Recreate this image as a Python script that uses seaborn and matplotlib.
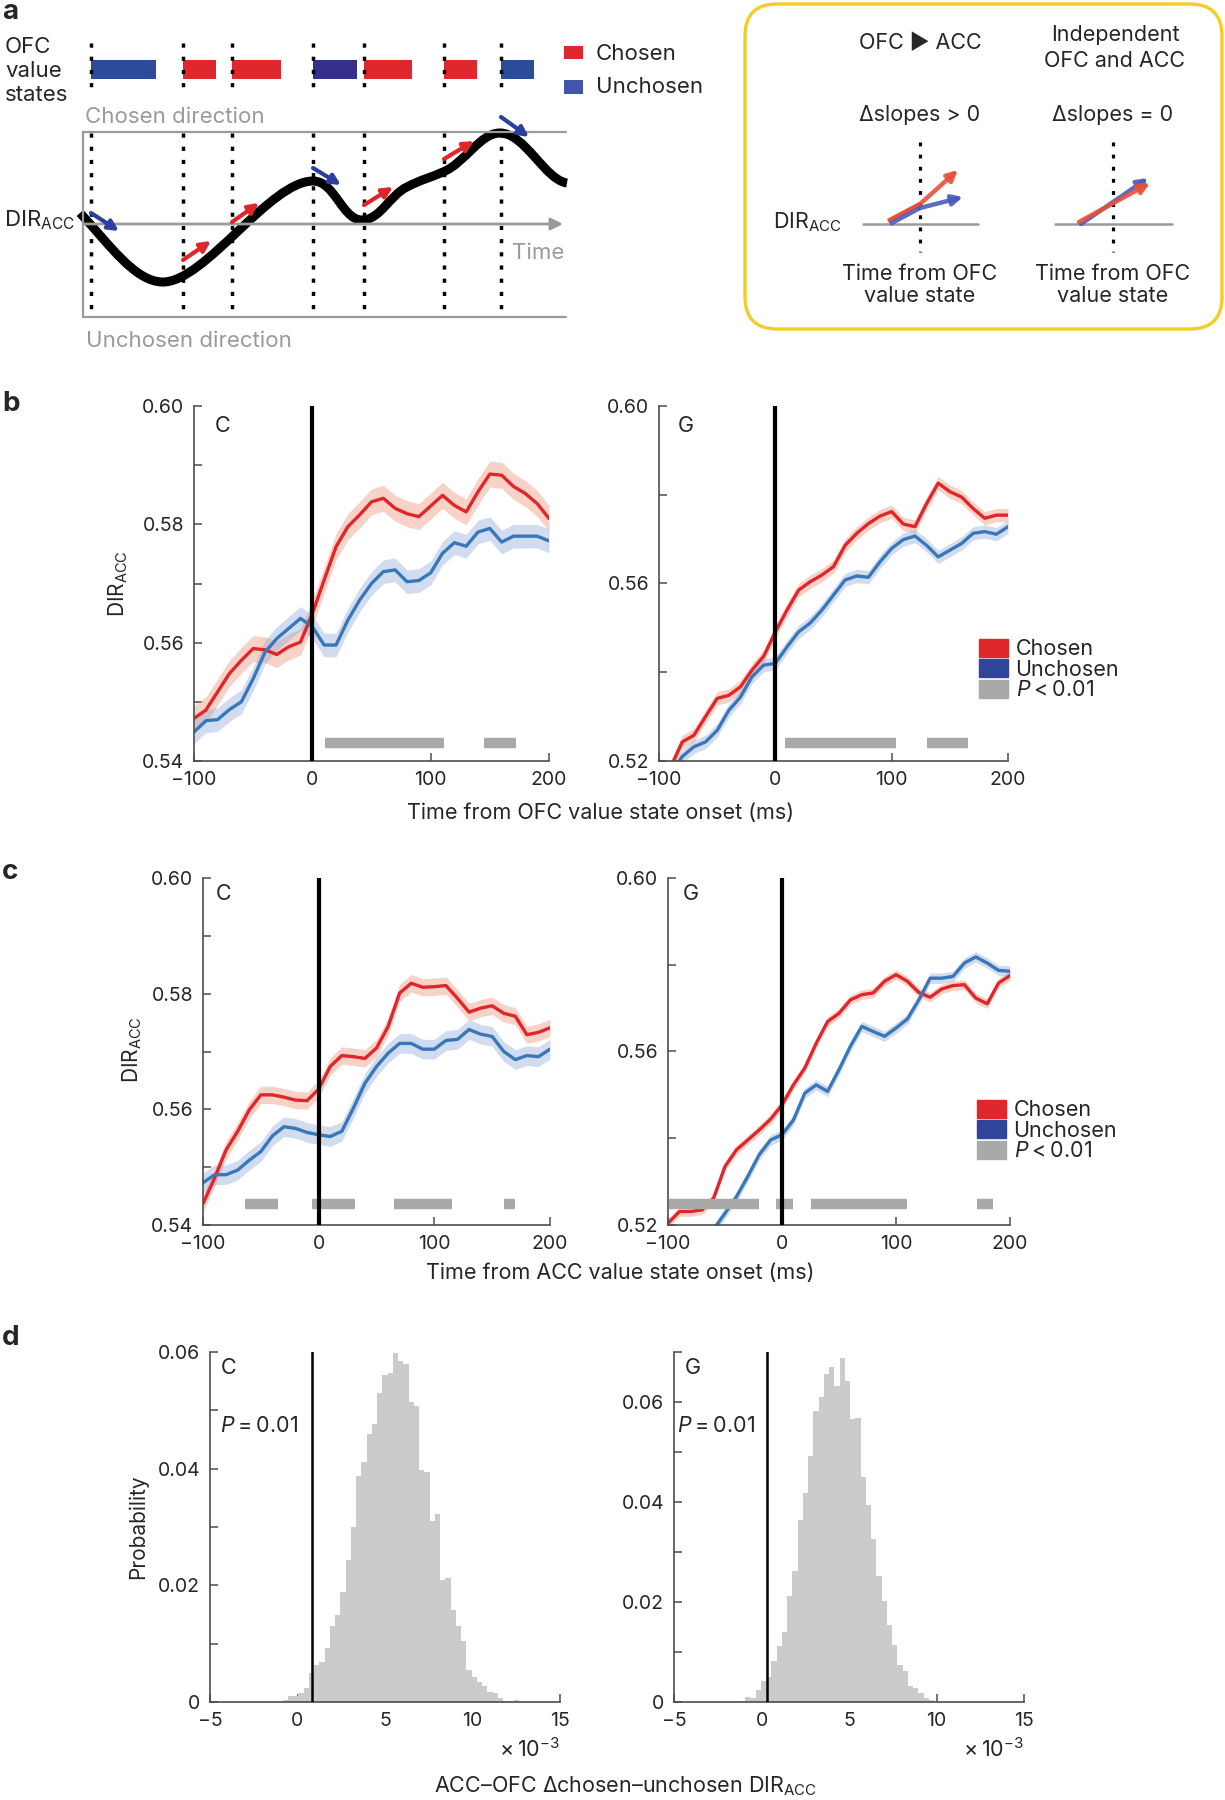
import numpy as np
import pandas as pd
import matplotlib
matplotlib.use("Agg")
import matplotlib.pyplot as plt
import seaborn as sns
from matplotlib.patches import FancyBboxPatch, Patch, PathPatch, Rectangle
from matplotlib.path import Path

# ---------------- data ----------------
time_ms = list(range(-100, 201, 10))

# b: aligned to OFC value state onset
ofc_c_chosen = [0.5472, 0.5486, 0.5517, 0.5548, 0.5570, 0.5590, 0.5588, 0.5580, 0.5593, 0.5601,
                0.5649, 0.5706, 0.5762, 0.5796, 0.5816, 0.5838, 0.5844, 0.5827, 0.5818, 0.5813,
                0.5831, 0.5849, 0.5832, 0.5821, 0.5855, 0.5885, 0.5883, 0.5864, 0.5852, 0.5835, 0.5810]
ofc_c_unchosen = [0.5449, 0.5468, 0.5470, 0.5487, 0.5500, 0.5539, 0.5584, 0.5607, 0.5624, 0.5641,
                  0.5627, 0.5596, 0.5596, 0.5638, 0.5672, 0.5700, 0.5720, 0.5723, 0.5703, 0.5705,
                  0.5718, 0.5751, 0.5769, 0.5763, 0.5787, 0.5793, 0.5770, 0.5780, 0.5780, 0.5780, 0.5772]
ofc_g_chosen = [0.5165, 0.5186, 0.5243, 0.5258, 0.5300, 0.5341, 0.5348, 0.5367, 0.5405, 0.5436,
                0.5491, 0.5540, 0.5585, 0.5604, 0.5619, 0.5638, 0.5686, 0.5713, 0.5735, 0.5752,
                0.5762, 0.5734, 0.5728, 0.5780, 0.5826, 0.5807, 0.5795, 0.5769, 0.5747, 0.5754, 0.5754]
ofc_g_unchosen = [0.5140, 0.5170, 0.5210, 0.5232, 0.5243, 0.5269, 0.5314, 0.5344, 0.5390, 0.5416,
                  0.5420, 0.5457, 0.5491, 0.5511, 0.5540, 0.5574, 0.5608, 0.5617, 0.5614, 0.5649,
                  0.5679, 0.5699, 0.5707, 0.5686, 0.5660, 0.5675, 0.5690, 0.5713, 0.5717, 0.5711, 0.5728]

# c: aligned to ACC value state onset
acc_c_chosen = [0.5437, 0.5481, 0.5530, 0.5562, 0.5599, 0.5625, 0.5625, 0.5621, 0.5616, 0.5615,
                0.5635, 0.5674, 0.5693, 0.5691, 0.5688, 0.5706, 0.5743, 0.5801, 0.5818, 0.5811,
                0.5812, 0.5814, 0.5792, 0.5768, 0.5775, 0.5779, 0.5766, 0.5761, 0.5729, 0.5733, 0.5741]
acc_c_unchosen = [0.5473, 0.5487, 0.5487, 0.5495, 0.5512, 0.5527, 0.5554, 0.5570, 0.5567, 0.5560,
                  0.5556, 0.5553, 0.5562, 0.5602, 0.5645, 0.5674, 0.5697, 0.5714, 0.5714, 0.5704,
                  0.5704, 0.5719, 0.5721, 0.5738, 0.5730, 0.5726, 0.5700, 0.5686, 0.5693, 0.5691, 0.5704]
acc_g_chosen = [0.5204, 0.5231, 0.5231, 0.5235, 0.5262, 0.5335, 0.5373, 0.5396, 0.5419, 0.5444,
                0.5477, 0.5523, 0.5562, 0.5619, 0.5669, 0.5688, 0.5719, 0.5731, 0.5735, 0.5762,
                0.5777, 0.5762, 0.5736, 0.5725, 0.5744, 0.5752, 0.5754, 0.5723, 0.5710, 0.5758, 0.5775]
acc_g_unchosen = [0.5080, 0.5110, 0.5140, 0.5165, 0.5190, 0.5227, 0.5265, 0.5312, 0.5362, 0.5396,
                  0.5408, 0.5442, 0.5504, 0.5523, 0.5508, 0.5558, 0.5612, 0.5658, 0.5646, 0.5635,
                  0.5654, 0.5675, 0.5719, 0.5769, 0.5769, 0.5773, 0.5804, 0.5818, 0.5804, 0.5787, 0.5785]

# s.e.m. half-widths of the shaded bands
ofc_c_sem = (0.0022, 0.0020)
ofc_g_sem = (0.0015, 0.0015)
acc_c_sem = (0.0015, 0.0017)
acc_g_sem = (0.0011, 0.0012)

# significant periods (P < 0.01), ms
ofc_c_sig = [(11, 111), (145, 172)]
ofc_g_sig = [(8, 104), (130, 166)]
acc_c_sig = [(-64, -35), (-6, 31), (65, 115), (160, 170)]
acc_g_sig = [(-99, -20), (-5, 10), (25, 110), (171, 185)]

# d: permutation distributions (x 1e-3), bin width 0.3
hist_bin = 0.3
hist_c_start = -0.85
hist_c_prob = [0.0003, 0.0010, 0.0011, 0.0015, 0.0024, 0.0050, 0.0064, 0.0069, 0.0093, 0.0131,
               0.0149, 0.0189, 0.0244, 0.0300, 0.0387, 0.0411, 0.0460, 0.0476, 0.0529, 0.0561,
               0.0564, 0.0598, 0.0585, 0.0580, 0.0515, 0.0507, 0.0398, 0.0395, 0.0311, 0.0322,
               0.0209, 0.0213, 0.0157, 0.0131, 0.0104, 0.0055, 0.0043, 0.0035, 0.0027, 0.0017,
               0.0015, 0.0007, 0.0002, 0.0002, 0.0004]
hist_c_obs = 0.83
hist_g_start = -2.13
hist_g_prob = [0.0001, 0.0001, 0.0001,
               0.0003, 0.0011, 0.0008, 0.0025, 0.0042, 0.0051, 0.0083, 0.0113, 0.0140, 0.0213,
               0.0262, 0.0365, 0.0418, 0.0493, 0.0582, 0.0611, 0.0657, 0.0670, 0.0631, 0.0689,
               0.0643, 0.0567, 0.0569, 0.0449, 0.0395, 0.0327, 0.0253, 0.0203, 0.0155, 0.0115,
               0.0075, 0.0063, 0.0033, 0.0027, 0.0017, 0.0007, 0.0005, 0.0001, 0.0001, 0.0001]
hist_g_obs = 0.33

# a: schematic OFC value states (schematic time units)
state_onsets = [91, 183, 232, 313, 364, 444, 501]
state_ends = [156, 216, 281, 357, 412, 477, 534]
state_kind = ["U", "C", "C", "U", "C", "C", "U"]

# ---------------- style ----------------
sns.set_style("ticks")
plt.rcParams["font.family"] = ["Inter", "DejaVu Sans"]
plt.rcParams["mathtext.fontset"] = "custom"
plt.rcParams["mathtext.rm"] = "Inter"
plt.rcParams["mathtext.it"] = "Inter:italic"

RED = "#e0262b"
BLUE = "#3878b8"
RED_BAND = "#ef8f74"
BLUE_BAND = "#8ea8da"
SIG = "#a9a9a9"
SPINE = "#4d4d4d"
LEG_RED = "#e0282c"
LEG_BLUE = "#2e459a"
GRAYTXT = "#9a9a9a"
ABLUE_A = "#2b3f9e"
TS = "\u2009"  # thin space

W, H = 1225, 1800
fig = plt.figure(figsize=(W / 100, H / 100), dpi=100)


def rect(l, t, r, b):
    return [l / W, 1 - b / H, (r - l) / W, (b - t) / H]


def ftext(x, y, s, **kw):
    fig.text(x / W, 1 - y / H, s, **kw)


DIR = r"DIR$_\mathregular{ACC}$"

# ---------------- panel a ----------------
ax = fig.add_axes([0, 1 - 360 / H, 1, 360 / H])
ax.set_xlim(0, W)
ax.set_ylim(360, 0)
ax.axis("off")

for x0, x1, k in zip(state_onsets, state_ends, state_kind):
    c = LEG_RED if k == "C" else ("#34308c" if x0 == 313 else "#2b4b9b")
    ax.add_patch(Rectangle((x0, 60), x1 - x0, 19, color=c, lw=0))
for x0 in state_onsets:
    for y0, y1 in [(43, 95), (133, 316)]:
        ax.plot([x0, x0], [y0, y1], color="k", lw=2.5, ls=(0, (1.2, 2.6)))

ax.add_patch(Rectangle((564, 46), 19, 13, color=LEG_RED, lw=0))
ax.add_patch(Rectangle((564, 80), 19, 14, color="#4255a8", lw=0))
ax.text(596, 54, "Chosen", fontsize=16, va="center")
ax.text(596, 87, "Unchosen", fontsize=16, va="center")
ax.text(5, 71, "OFC\nvalue\nstates", fontsize=16, va="center", linespacing=1.28)

ax.plot([83, 566], [132, 132], color=GRAYTXT, lw=1.6)
ax.plot([83, 566], [317, 317], color=GRAYTXT, lw=1.6)
ax.plot([83, 83], [132, 317], color=GRAYTXT, lw=1.6)
ax.annotate("", xy=(563, 224), xytext=(83, 224),
            arrowprops=dict(arrowstyle="-|>", color=GRAYTXT, lw=2, mutation_scale=18,
                            shrinkA=0, shrinkB=0))
ax.text(512, 253, "Time", fontsize=16, color=GRAYTXT, va="center")
ax.text(85, 117, "Chosen direction", fontsize=16, color=GRAYTXT, va="center")
ax.text(86, 341, "Unchosen direction", fontsize=16, color=GRAYTXT, va="center")
ax.text(4, 220, DIR, fontsize=16, va="center")

verts = [(80, 213), (110, 245), (135, 282), (163, 282),
         (205, 282), (270, 181), (313, 181),
         (335, 181), (342, 220), (362, 220),
         (380, 220), (390, 195), (407, 187),
         (420, 180), (432, 177), (443, 172),
         (465, 163), (480, 133), (500, 133),
         (525, 133), (545, 180), (567, 183)]
codes = [Path.MOVETO] + [Path.CURVE4] * (len(verts) - 1)
ax.add_patch(PathPatch(Path(verts, codes), fill=False, lw=6.5, color="k",
                       capstyle="butt", joinstyle="round"))

arrows_a = [((91, 213), (119, 231), ABLUE_A), ((183, 260), (211, 241), RED),
            ((232, 222), (259, 203), RED), ((313, 168), (341, 185), ABLUE_A),
            ((364, 205), (393, 187), RED), ((444, 159), (474, 141), RED),
            ((501, 117), (529, 137), ABLUE_A)]
for s, e, c in arrows_a:
    ax.annotate("", xy=e, xytext=s,
                arrowprops=dict(arrowstyle="-|>", color=c, lw=3, mutation_scale=15,
                                shrinkA=0, shrinkB=0))

# right box
ax.add_patch(FancyBboxPatch((745, 4), 477, 325, boxstyle="round,pad=0,rounding_size=32",
                            fill=False, ec="#f5cd22", lw=2.4))
ax.text(920, 43, "OFC \u25B6 ACC", fontsize=15.5, ha="center", va="center")
ax.text(1115, 48, "Independent\nOFC and ACC", fontsize=15.5, ha="center", va="center",
        linespacing=1.4)
ax.text(920, 115, "\u0394slopes > 0", fontsize=15.5, ha="center", va="center")
ax.text(1113, 115, "\u0394slopes = 0", fontsize=15.5, ha="center", va="center")
ax.text(773, 222, DIR, fontsize=15.5, va="center")
for cx, (x0, x1) in zip([920, 1113], [(863, 978), (1055, 1172)]):
    ax.plot([x0, x1], [224, 224], color=GRAYTXT, lw=1.8)
    ax.plot([cx, cx], [142, 252], color="k", lw=2.3, ls=(0, (1.2, 2.6)))
    ax.text(cx, 285, "Time from OFC\nvalue state", fontsize=15.5, ha="center", va="center",
            linespacing=1.15)
ARED, ABLUE = "#e8503a", "#4a5cb8"
ax.plot([888, 920], [221, 204], color=ARED, lw=3.2, solid_capstyle="butt")
ax.plot([890, 920], [224, 208], color=ABLUE, lw=3.2, solid_capstyle="butt", alpha=0.9)
for s, e, c in [((920, 204), (958, 170), ARED), ((920, 208), (963, 197), ABLUE),
                ((1081, 224), (1148, 178), ABLUE), ((1079, 222), (1150, 183), ARED)]:
    ax.annotate("", xy=e, xytext=s,
                arrowprops=dict(arrowstyle="-|>", color=c, lw=3.2, mutation_scale=15,
                                shrinkA=0, shrinkB=0, alpha=0.9))

# ---------------- panels b, c ----------------
def style_axis(ax):
    sns.despine(ax=ax)
    for sp in ["left", "bottom"]:
        ax.spines[sp].set_color(SPINE)
        ax.spines[sp].set_linewidth(1.2)
    ax.tick_params(direction="in", length=6, width=1.1, color=SPINE, labelsize=14, pad=7)


def ts_panel(r, chosen, unchosen, sem, sig, ylo, yticks, ylabels, sig_y, tag, tag_xy):
    ax = fig.add_axes(rect(*r))
    df = pd.DataFrame({"time": time_ms * 2, "dir": chosen + unchosen,
                       "cond": ["Chosen"] * len(time_ms) + ["Unchosen"] * len(time_ms)})
    t = np.array(time_ms)
    ax.fill_between(t, np.array(chosen) - sem[0], np.array(chosen) + sem[0],
                    color=RED_BAND, alpha=0.4, lw=0)
    ax.fill_between(t, np.array(unchosen) - sem[1], np.array(unchosen) + sem[1],
                    color=BLUE_BAND, alpha=0.4, lw=0)
    sns.lineplot(data=df, x="time", y="dir", hue="cond",
                 palette={"Chosen": RED, "Unchosen": BLUE}, lw=2.4, legend=False, ax=ax)
    for a, b in sig:
        ax.hlines(sig_y, a, b, color=SIG, lw=7.5)
    ax.axvline(0, color="k", lw=3, zorder=5)
    ax.set_xlim(-100, 200)
    ax.set_ylim(ylo, 0.60)
    ax.set_xticks([-100, 0, 100, 200], ["\u2212100", "0", "100", "200"])
    ax.set_yticks(yticks, ylabels)
    ax.set_xlabel("")
    ax.set_ylabel("")
    style_axis(ax)
    ax.text(*tag_xy, tag, transform=ax.transAxes, fontsize=15.5, va="center", ha="center")
    return ax


yt1 = [0.54, 0.55, 0.56, 0.57, 0.58, 0.59, 0.60]
yl1 = ["0.54", "", "0.56", "", "0.58", "", "0.60"]
yt2 = [0.52, 0.54, 0.56, 0.58, 0.60]
yl2 = ["0.52", "", "0.56", "", "0.60"]

ts_panel((194, 406, 549, 761), ofc_c_chosen, ofc_c_unchosen, ofc_c_sem, ofc_c_sig,
         0.54, yt1, yl1, 0.5431, "C", (0.08, 0.944))
ts_panel((659, 406, 1008, 761), ofc_g_chosen, ofc_g_unchosen, ofc_g_sem, ofc_g_sig,
         0.52, yt2, yl2, 0.5241, "G", (0.078, 0.944))
ts_panel((203, 878, 550, 1225), acc_c_chosen, acc_c_unchosen, acc_c_sem, acc_c_sig,
         0.54, yt1, yl1, 0.5436, "C", (0.06, 0.954))
ts_panel((668, 878, 1010, 1225), acc_g_chosen, acc_g_unchosen, acc_g_sem, acc_g_sig,
         0.52, yt2, yl2, 0.5248, "G", (0.067, 0.954))

ftext(601, 813, "Time from OFC value state onset (ms)", fontsize=15.5, ha="center", va="center")
ftext(620, 1273, "Time from ACC value state onset (ms)", fontsize=15.5, ha="center", va="center")
ftext(118, 584, DIR, fontsize=15, rotation=90, ha="center", va="center")
ftext(132, 1050, DIR, fontsize=15, rotation=90, ha="center", va="center")

handles = [Patch(color=LEG_RED), Patch(color=LEG_BLUE), Patch(color="#a9a9a9")]
labels = ["Chosen", "Unchosen", r"$\mathit{P}$" + TS + "<" + TS + "0.01"]
for x, y in [(979, 639), (977, 1100)]:
    fig.legend(handles, labels, loc="upper left", bbox_to_anchor=(x / W, 1 - y / H),
               frameon=False, fontsize=15.5, handlelength=1.35, handleheight=0.9,
               labelspacing=0.0, handletextpad=0.35, borderpad=0, borderaxespad=0)

# ---------------- panel d ----------------
def hist_panel(r, start, probs, obs, ymax, yticks, ylabels, tag, p_x):
    ax = fig.add_axes(rect(*r))
    edges = [start + hist_bin * i for i in range(len(probs) + 1)]
    hd = pd.DataFrame({"diff": [(a + b) / 2 for a, b in zip(edges[:-1], edges[1:])],
                       "prob": probs})
    sns.histplot(data=hd, x="diff", weights="prob", bins=edges, color="#cbcbcb", alpha=1,
                 linewidth=0, ax=ax)
    ax.axvline(obs, color="k", lw=1.8, zorder=5)
    ax.set_xlim(-5, 15)
    ax.set_ylim(0, ymax)
    ax.set_xticks([-5, 0, 5, 10, 15], ["\u22125", "0", "5", "10", "15"])
    ax.set_yticks(yticks, ylabels)
    ax.set_xlabel("")
    ax.set_ylabel("")
    style_axis(ax)
    ax.text(0.03, 0.955, tag, transform=ax.transAxes, fontsize=15.5, va="center")
    ax.text(p_x, 0.79, r"$\mathit{P}$" + TS + "=" + TS + "0.01", transform=ax.transAxes,
            fontsize=15.5, va="center")
    ax.text(1.0, -0.135, "\u00d7" + TS + "10$^{\\mathregular{\u22123}}$",
            transform=ax.transAxes, fontsize=15.5, ha="right", va="center")
    return ax


hist_panel((210, 1352, 560, 1702), hist_c_start, hist_c_prob, hist_c_obs, 0.06,
           [0, 0.01, 0.02, 0.03, 0.04, 0.05, 0.06], ["0", "", "0.02", "", "0.04", "", "0.06"],
           "C", 0.03)
hist_panel((674, 1352, 1024, 1702), hist_g_start, hist_g_prob, hist_g_obs, 0.07,
           [0, 0.01, 0.02, 0.03, 0.04, 0.05, 0.06, 0.07],
           ["0", "", "0.02", "", "0.04", "", "0.06", ""], "G", 0.008)
ftext(138, 1527, "Probability", fontsize=15, rotation=90, ha="center", va="center")
ftext(626, 1786, "ACC\u2013OFC \u0394chosen\u2013unchosen " + DIR, fontsize=15.5,
      ha="center", va="center")

# panel letters
for letter, y in [("a", 12), ("b", 404), ("c", 872), ("d", 1338)]:
    ftext(2, y, letter, fontsize=20, fontweight="bold", va="center")

fig.savefig("out.png", dpi=100)
